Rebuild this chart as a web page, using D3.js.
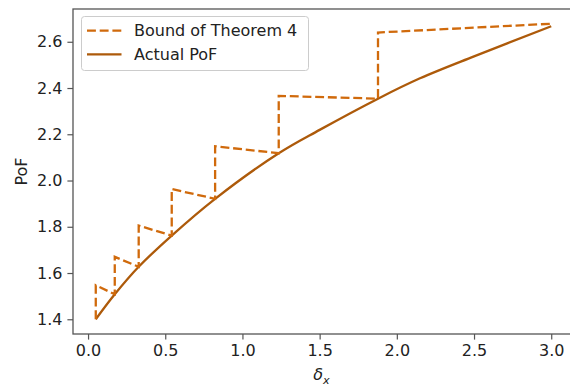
<!DOCTYPE html>
<html>
<head>
<meta charset="utf-8">
<script src="https://cdn.jsdelivr.net/npm/d3@7"></script>
<style>
  html, body { margin: 0; padding: 0; background: #fff; }
  svg { display: block; font-family: "DejaVu Sans", sans-serif; }
</style>
</head>
<body>
<svg id="chart" width="570" height="388"></svg>
<script>
// values
const boundX = [0.05, 0.05, 0.173, 0.173, 0.328, 0.328, 0.542, 0.542, 0.823, 0.823, 1.235, 1.235, 1.878, 1.878, 3.0];
const boundY = [1.400, 1.547, 1.508, 1.670, 1.627, 1.805, 1.762, 1.963, 1.921, 2.148, 2.118, 2.366, 2.354, 2.640, 2.678];
const actualX = [0.05, 0.173, 0.328, 0.542, 0.823, 1.235, 1.5, 1.878, 2.15, 2.5, 3.0];
const actualY = [1.400, 1.508, 1.627, 1.762, 1.921, 2.118, 2.219, 2.354, 2.442, 2.537, 2.667];
const xTicks = [0.0, 0.5, 1.0, 1.5, 2.0, 2.5, 3.0];
const yTicks = [1.4, 1.6, 1.8, 2.0, 2.2, 2.4, 2.6];
const seriesNames = ["Bound of Theorem 4", "Actual PoF"];
const colors = ["#d06a0c", "#ad5a0a"];

const margin = { left: 73, top: 9, right: 574, bottom: 334 };
const svg = d3.select("#chart");

const x = d3.scaleLinear().domain([-0.0975, 3.1475]).range([margin.left, margin.right]);
const y = d3.scaleLinear().domain([1.3363, 2.7417]).range([margin.bottom, margin.top]);

const fontSize = "16px";
const axisColor = "#555";
const lw = 2.3;
const dash = "8.9,3.8";

// series
const line = d3.line().x(d => x(d[0])).y(d => y(d[1]));
const curve = d3.line().x(d => x(d[0])).y(d => y(d[1])).curve(d3.curveCatmullRom.alpha(0.5));

svg.append("path")
  .datum(actualX.map((v, i) => [v, actualY[i]]))
  .attr("d", curve)
  .attr("fill", "none")
  .attr("stroke", colors[1])
  .attr("stroke-width", lw);

svg.append("path")
  .datum(boundX.map((v, i) => [v, boundY[i]]))
  .attr("d", line)
  .attr("fill", "none")
  .attr("stroke", colors[0])
  .attr("stroke-width", lw)
  .attr("stroke-dasharray", dash);

// axes
const xAxis = svg.append("g")
  .attr("transform", `translate(0,${margin.bottom})`)
  .call(d3.axisBottom(x).tickValues(xTicks).tickFormat(d3.format(".1f")).tickSize(5.6).tickPadding(5));
const yAxis = svg.append("g")
  .attr("transform", `translate(${margin.left},0)`)
  .call(d3.axisLeft(y).tickValues(yTicks).tickFormat(d3.format(".1f")).tickSize(5.6).tickPadding(5));

[xAxis, yAxis].forEach(a => {
  a.select(".domain").remove();
  a.selectAll(".tick line").attr("stroke", axisColor).attr("stroke-width", 1.2);
  a.selectAll(".tick text").attr("fill", "#222").style("font-size", fontSize).style("font-family", "DejaVu Sans");
});

// spines
svg.append("rect")
  .attr("x", margin.left).attr("y", margin.top)
  .attr("width", margin.right - margin.left).attr("height", margin.bottom - margin.top)
  .attr("fill", "none").attr("stroke", axisColor).attr("stroke-width", 1.3);

// labels
svg.append("text")
  .attr("transform", `translate(27,${(margin.top + margin.bottom) / 2}) rotate(-90)`)
  .attr("text-anchor", "middle")
  .attr("fill", "#222")
  .style("font-size", fontSize)
  .text("PoF");

const xl = svg.append("text")
  .attr("x", (margin.left + margin.right) / 2 - 2)
  .attr("y", 380)
  .attr("text-anchor", "middle")
  .attr("fill", "#222")
  .style("font-size", fontSize)
  .style("font-style", "italic");
xl.append("tspan").text("δ");
xl.append("tspan").attr("dy", 3.5).style("font-size", "11.2px").text("x");

// legend
const legend = svg.append("g");
legend.append("rect")
  .attr("x", 81.5).attr("y", 16.5).attr("width", 227).attr("height", 54)
  .attr("rx", 3)
  .attr("fill", "#fff").attr("fill-opacity", 0.8)
  .attr("stroke", "#ccc").attr("stroke-width", 1);
const rowsY = [30.7, 54.3];
seriesNames.forEach((name, i) => {
  legend.append("line")
    .attr("x1", 87).attr("x2", 121.5)
    .attr("y1", rowsY[i]).attr("y2", rowsY[i])
    .attr("stroke", colors[i]).attr("stroke-width", lw)
    .attr("stroke-dasharray", i === 0 ? dash : null);
  legend.append("text")
    .attr("x", 134).attr("y", rowsY[i])
    .attr("dy", "0.36em")
    .attr("fill", "#222")
    .style("font-size", fontSize)
    .text(name);
});
</script>
</body>
</html>
